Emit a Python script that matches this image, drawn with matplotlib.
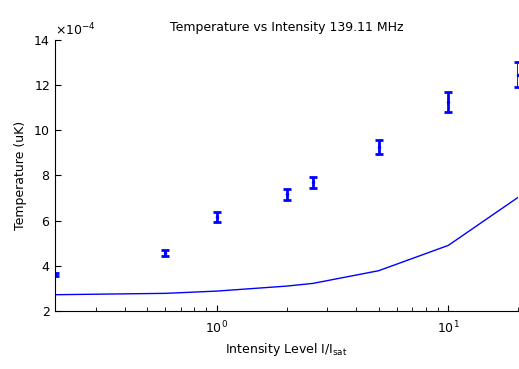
import matplotlib
matplotlib.use("Agg")
import matplotlib.pyplot as plt
from matplotlib.ticker import ScalarFormatter, LogLocator, NullFormatter

# intensity levels (I/Isat) and measured temperatures
intensity = [0.2, 0.6, 1.0, 2.0, 2.6, 5.0, 10.0, 20.0]
temp = [3.62e-4, 4.56e-4, 6.15e-4, 7.16e-4, 7.68e-4, 9.25e-4, 11.25e-4, 12.45e-4]
temp_err = [0.08e-4, 0.12e-4, 0.22e-4, 0.24e-4, 0.24e-4, 0.32e-4, 0.44e-4, 0.55e-4]

# model curve at the same intensities
model = [2.72e-4, 2.78e-4, 2.88e-4, 3.10e-4, 3.22e-4, 3.78e-4, 4.90e-4, 7.02e-4]

plt.rcParams['font.family'] = 'DejaVu Sans'
plt.rcParams['font.size'] = 9

fig = plt.figure(figsize=(5.19, 3.69), dpi=100)
ax = fig.add_axes([55 / 519, 1 - 311 / 369, 463 / 519, 271.5 / 369])

ax.plot(intensity, model, color='#0000ff', lw=1)
ax.errorbar(intensity, temp, yerr=temp_err, fmt='.', color='#0000ff',
            ms=3, elinewidth=2, capsize=3, capthick=2)

ax.set_xscale('log')
ax.set_xlim(0.2, 20)
ax.set_ylim(2e-4, 14e-4)
ax.set_yticks([i * 1e-4 for i in range(2, 15, 2)])

fmt = ScalarFormatter(useMathText=True)
fmt.set_powerlimits((-4, -4))
ax.yaxis.set_major_formatter(fmt)
ax.xaxis.set_major_locator(LogLocator(base=10))
ax.xaxis.set_minor_locator(LogLocator(base=10, subs=range(2, 10)))
ax.xaxis.set_minor_formatter(NullFormatter())

ax.tick_params(direction='in', which='both', labelsize=9)
ax.tick_params(which='major', length=4)
ax.tick_params(which='minor', length=3)
ax.tick_params(axis='x', pad=6)
for side in ('top', 'right'):
    ax.spines[side].set_visible(False)

ax.set_title('Temperature vs Intensity 139.11 MHz', fontsize=9, pad=6)
ax.set_xlabel('Intensity Level I/I$_{\\mathrm{sat}}$', fontsize=9)
ax.set_ylabel('Temperature (uK)', fontsize=9)

fig.savefig('out.png', dpi=100)
